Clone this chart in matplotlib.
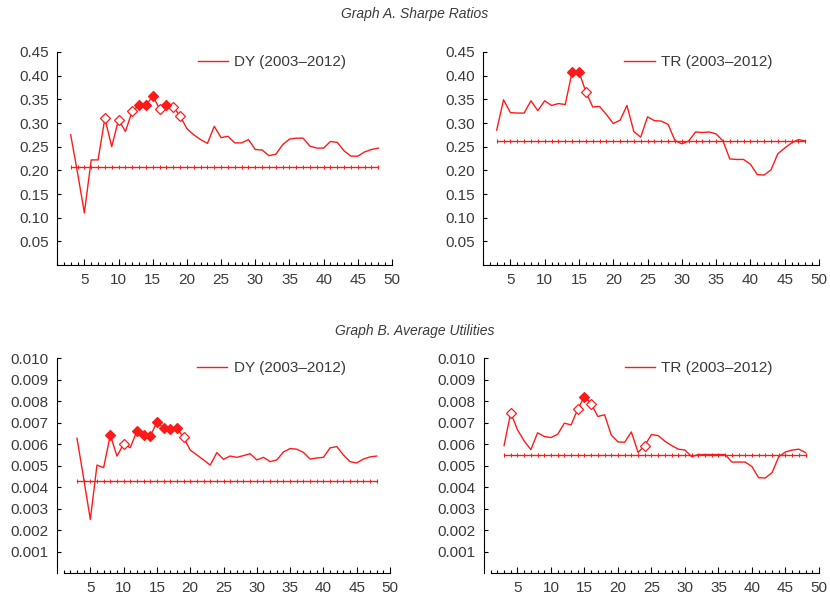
import matplotlib
matplotlib.use("Agg")
import matplotlib.pyplot as plt
from matplotlib.ticker import FixedLocator

plt.rcParams['font.family'] = ['Liberation Sans', 'DejaVu Sans']

RED = "#ff1a1a"
TXT = "#3a3a3a"

# horizon (months) used in every panel
horizon = list(range(3, 49))

# Graph A. Sharpe ratios
dy_sharpe = [0.275, 0.195, 0.110, 0.222, 0.222, 0.310, 0.250, 0.307, 0.282, 0.325,
             0.337, 0.337, 0.357, 0.330, 0.339, 0.334, 0.315, 0.288, 0.275, 0.265,
             0.257, 0.293, 0.269, 0.272, 0.258, 0.258, 0.265, 0.244, 0.243, 0.231,
             0.234, 0.254, 0.266, 0.268, 0.268, 0.251, 0.247, 0.247, 0.261, 0.259,
             0.241, 0.230, 0.230, 0.239, 0.244, 0.247]
dy_sharpe_bench = 0.207
dy_sharpe_open = [8, 10, 12, 16, 18, 19]
dy_sharpe_filled = [13, 14, 15, 17]

tr_sharpe = [0.285, 0.349, 0.322, 0.321, 0.321, 0.347, 0.326, 0.347, 0.337, 0.341,
             0.339, 0.408, 0.408, 0.366, 0.334, 0.335, 0.318, 0.299, 0.306, 0.337,
             0.282, 0.270, 0.313, 0.305, 0.304, 0.297, 0.263, 0.256, 0.262, 0.281,
             0.280, 0.281, 0.277, 0.262, 0.224, 0.223, 0.223, 0.213, 0.191, 0.190,
             0.201, 0.235, 0.247, 0.258, 0.265, 0.262]
tr_sharpe_bench = 0.261
tr_sharpe_open = [16]
tr_sharpe_filled = [14, 15]

# Graph B. Average utilities
dy_util = [0.00627, 0.00440, 0.00249, 0.00502, 0.00490, 0.00642, 0.00544, 0.00599,
           0.00583, 0.00661, 0.00641, 0.00635, 0.00703, 0.00675, 0.00672, 0.00673,
           0.00631, 0.00572, 0.00549, 0.00526, 0.00502, 0.00560, 0.00529, 0.00544,
           0.00538, 0.00546, 0.00555, 0.00526, 0.00538, 0.00518, 0.00526, 0.00563,
           0.00579, 0.00576, 0.00561, 0.00530, 0.00535, 0.00538, 0.00582, 0.00588,
           0.00549, 0.00518, 0.00512, 0.00530, 0.00540, 0.00544]
dy_util_bench = 0.00428
dy_util_open = [10, 19]
dy_util_filled = [8, 12, 13, 14, 15, 16, 17, 18]

tr_util = [0.00593, 0.00746, 0.00666, 0.00614, 0.00574, 0.00652, 0.00635, 0.00630,
           0.00645, 0.00697, 0.00689, 0.00762, 0.00821, 0.00787, 0.00728, 0.00736,
           0.00642, 0.00610, 0.00608, 0.00656, 0.00561, 0.00593, 0.00644, 0.00639,
           0.00613, 0.00593, 0.00576, 0.00572, 0.00541, 0.00551, 0.00551, 0.00551,
           0.00551, 0.00551, 0.00516, 0.00516, 0.00516, 0.00495, 0.00443, 0.00442,
           0.00467, 0.00541, 0.00563, 0.00572, 0.00576, 0.00560]
tr_util_bench = 0.00549
tr_util_open = [4, 14, 16, 24]
tr_util_filled = [15]


def draw_panel(ax, values, bench, open_x, filled_x, label, ymax, ystep, yfmt, xmin):
    ax.plot(horizon, values, color=RED, lw=1.0, label=label, zorder=3)
    # benchmark: flat line with a small dot at every horizon
    ax.plot(horizon, [bench] * len(horizon), color=RED, lw=1.0, marker='|',
            ms=2.2, mew=0.7, zorder=2)
    oy = [values[horizon.index(x)] for x in open_x]
    ax.plot(open_x, oy, ls='none', marker='D', ms=5, mfc='white', mec=RED, mew=0.9, zorder=4)
    fy = [values[horizon.index(x)] for x in filled_x]
    ax.plot(filled_x, fy, ls='none', marker='D', ms=5, mfc=RED, mec=RED, mew=0.9, zorder=4)

    ax.set_xlim(xmin, 50)
    ax.set_ylim(0, ymax)
    ax.spines['bottom'].set_bounds(1, 50)
    for s in ['top', 'right']:
        ax.spines[s].set_visible(False)

    ax.xaxis.set_major_locator(FixedLocator([5, 10, 15, 20, 25, 30, 35, 40, 45, 50]))
    ax.xaxis.set_minor_locator(FixedLocator(list(range(1, 51))))
    nticks = int(round(ymax / ystep))
    yt = [ystep * i for i in range(1, nticks + 1)]
    ax.set_yticks(yt)
    ax.set_yticklabels([yfmt.format(v) for v in yt])
    ax.tick_params(axis='x', which='major', direction='in', length=4, width=0.8,
                   labelsize=11, labelcolor=TXT, pad=6)
    ax.tick_params(axis='x', which='minor', direction='in', length=2, width=0.8)
    ax.tick_params(axis='y', direction='in', length=3, width=0.8,
                   labelsize=11, labelcolor=TXT, pad=6)
    leg = ax.legend(frameon=False, loc='upper left', bbox_to_anchor=(0.42, 0.985),
                    borderaxespad=0, borderpad=0, handlelength=2.0,
                    handletextpad=0.4, fontsize=11)
    for t in leg.get_texts():
        t.set_color(TXT)


fig = plt.figure(figsize=(8.3, 5.97), dpi=100)

ax1 = fig.add_axes([0.0687, 0.5561, 0.4036, 0.3568])
ax2 = fig.add_axes([0.5819, 0.5561, 0.4048, 0.3568])
ax3 = fig.add_axes([0.0687, 0.0402, 0.4012, 0.3601])
ax4 = fig.add_axes([0.5831, 0.0402, 0.4036, 0.3601])

draw_panel(ax1, dy_sharpe, dy_sharpe_bench, dy_sharpe_open, dy_sharpe_filled,
           "DY (2003\u20132012)", 0.45, 0.05, "{:.2f}", 1)
draw_panel(ax2, tr_sharpe, tr_sharpe_bench, tr_sharpe_open, tr_sharpe_filled,
           "TR (2003\u20132012)", 0.45, 0.05, "{:.2f}", 1)
draw_panel(ax3, dy_util, dy_util_bench, dy_util_open, dy_util_filled,
           "DY (2003\u20132012)", 0.010, 0.001, "{:.3f}", 0)
draw_panel(ax4, tr_util, tr_util_bench, tr_util_open, tr_util_filled,
           "TR (2003\u20132012)", 0.010, 0.001, "{:.3f}", 0)

fig.text(0.5, 0.976, "Graph A. Sharpe Ratios", ha='center', va='center',
         style='italic', fontsize=10, color=TXT)
fig.text(0.5, 0.446, "Graph B. Average Utilities", ha='center', va='center',
         style='italic', fontsize=10, color=TXT)

fig.savefig("out.png", dpi=100)
